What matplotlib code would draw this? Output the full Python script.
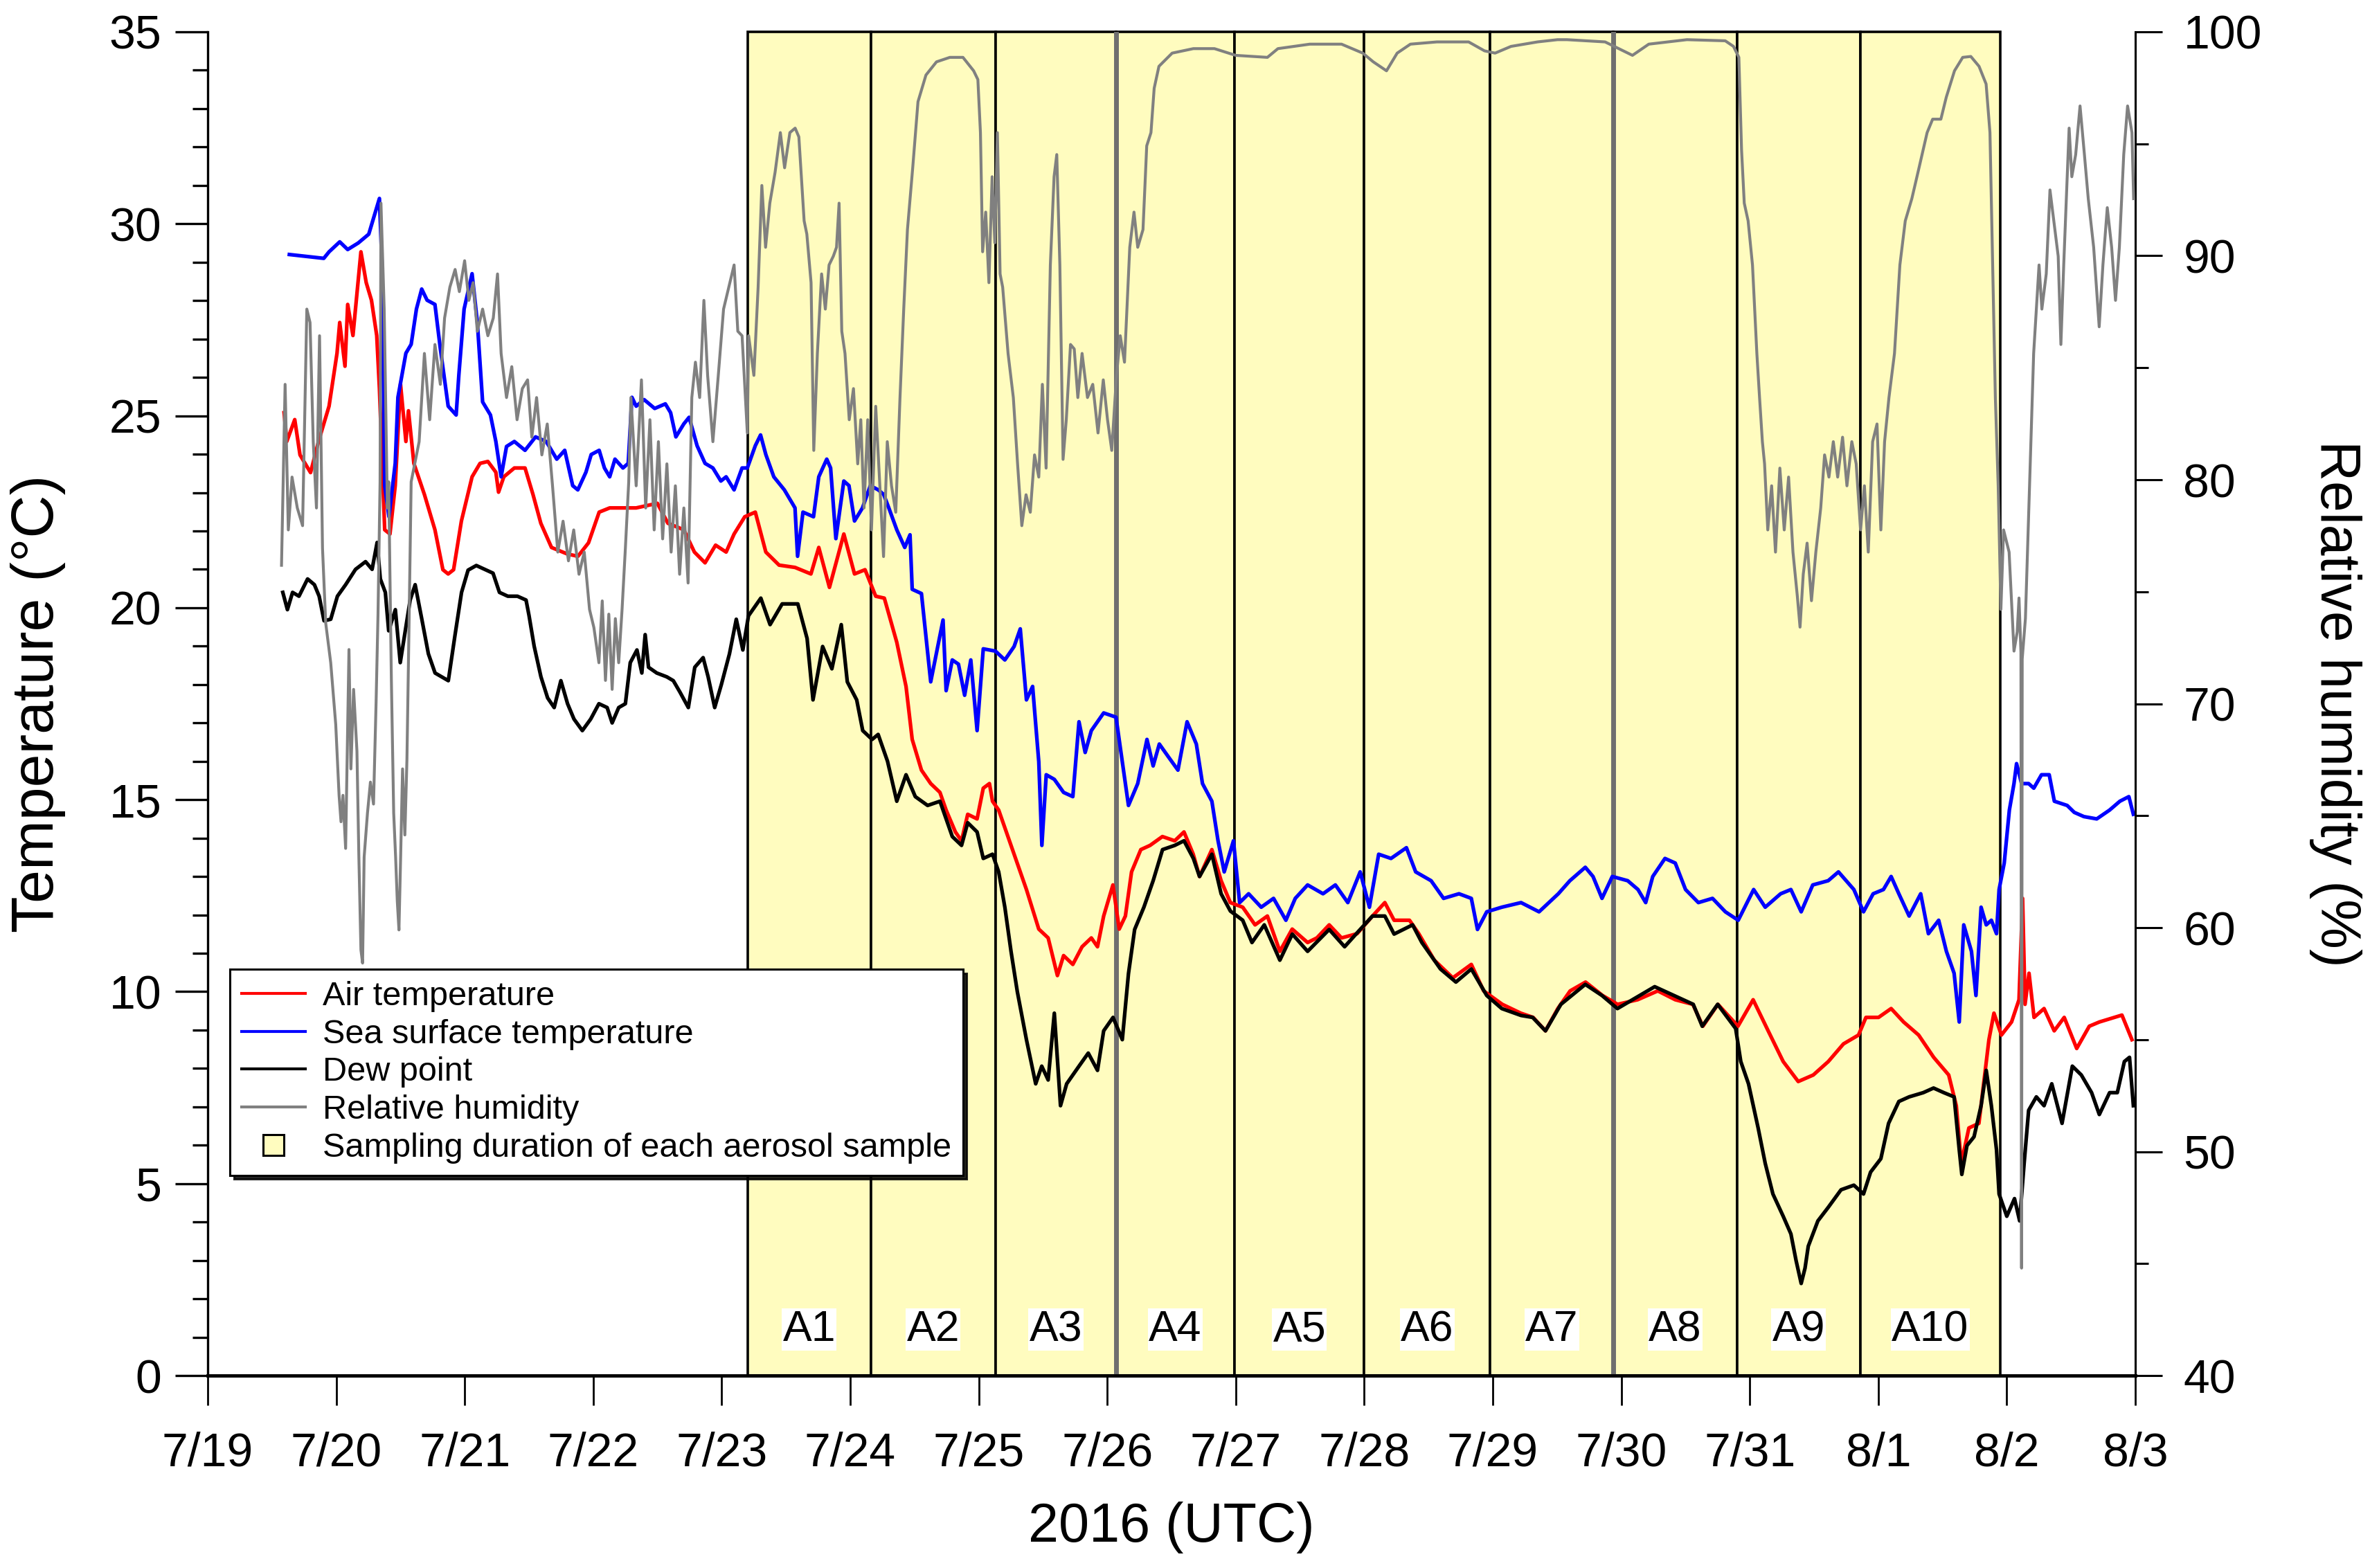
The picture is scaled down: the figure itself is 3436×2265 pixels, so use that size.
import matplotlib
matplotlib.use("Agg")
import matplotlib.pyplot as plt
from matplotlib.lines import Line2D
from matplotlib.ticker import MultipleLocator

plt.rcParams["font.family"] = ["Liberation Sans", "DejaVu Sans"]

# days since 2016-07-19 00:00 UTC
day_labels = ["7/19", "7/20", "7/21", "7/22", "7/23", "7/24", "7/25", "7/26",
              "7/27", "7/28", "7/29", "7/30", "7/31", "8/1", "8/2", "8/3"]

sample_edges = [4.20, 5.16, 6.13, 7.07, 7.99, 9.00, 9.98, 10.94, 11.90, 12.86, 13.95]
sample_labels = ["A1", "A2", "A3", "A4", "A5", "A6", "A7", "A8", "A9", "A10"]
gray_edges = [7.07, 10.94]

air_day = [0.594, 0.615, 0.677, 0.718, 0.8, 0.862, 0.944, 1.006, 1.027, 1.068, 1.089, 1.13,
           1.192, 1.233, 1.274, 1.315, 1.336, 1.377, 1.418, 1.459, 1.5, 1.542, 1.562, 1.604,
           1.686, 1.768, 1.83, 1.871, 1.913, 1.974, 2.057, 2.119, 2.18, 2.242, 2.263, 2.304,
           2.386, 2.469, 2.531, 2.592, 2.675, 2.798, 2.881, 2.963, 3.046, 3.128, 3.334, 3.499,
           3.581, 3.705, 3.787, 3.87, 3.952, 4.034, 4.096, 4.179, 4.261, 4.343, 4.446, 4.57,
           4.694, 4.755, 4.838, 4.95, 5.033, 5.115, 5.198,
           5.265, 5.362, 5.434, 5.482, 5.554, 5.626, 5.698, 5.746, 5.818, 5.866, 5.914, 5.987,
           6.035, 6.083, 6.107, 6.155, 6.227, 6.299, 6.371, 6.467, 6.54, 6.612, 6.66, 6.732,
           6.804, 6.876, 6.924, 6.972, 7.044, 7.093, 7.141, 7.189, 7.261, 7.333, 7.429, 7.525,
           7.597, 7.669, 7.718, 7.814, 7.886, 7.958, 8.054, 8.15, 8.246, 8.343, 8.439, 8.559,
           8.631, 8.727, 8.823, 8.944, 9.064, 9.16, 9.232, 9.352, 9.424, 9.545, 9.689, 9.833,
           9.929, 10.074, 10.218, 10.314, 10.41, 10.506, 10.602, 10.722,
           10.854, 10.971, 11.127, 11.284, 11.42, 11.557, 11.635, 11.752, 11.908, 12.026,
           12.143, 12.26, 12.377, 12.494, 12.611, 12.729, 12.846, 12.904, 13.002, 13.1, 13.197,
           13.314, 13.431, 13.548, 13.607, 13.646, 13.705, 13.783, 13.861, 13.9, 13.958,
           14.037, 14.095, 14.123, 14.142, 14.173, 14.212, 14.29, 14.369, 14.447, 14.544,
           14.642, 14.72, 14.837, 14.896, 14.974]
air_temp = [25.08, 24.33, 24.9, 23.98, 23.52, 24.33, 25.25, 26.63, 27.43, 26.29, 27.9, 27.09,
            29.27, 28.47, 28.01, 27.09, 25.71, 22.03, 21.92, 23.18, 25.83, 24.33, 25.13, 23.76,
            22.95, 22.03, 20.99, 20.88, 20.99, 22.26, 23.41, 23.76, 23.81, 23.53, 23.01, 23.41,
            23.64, 23.64, 22.95, 22.2, 21.57, 21.4, 21.34, 21.69, 22.49, 22.6, 22.6, 22.72,
            22.2, 22.03, 21.45, 21.17, 21.63, 21.45, 21.92, 22.37, 22.49, 21.45, 21.11, 21.05,
            20.88, 21.57, 20.53, 21.92, 20.88, 20.99, 20.3,
            20.25, 19.1, 17.95, 16.57, 15.77, 15.42, 15.19, 14.73, 14.16, 13.93, 14.62, 14.5,
            15.3, 15.42, 14.96, 14.73, 14.04, 13.35, 12.66, 11.63, 11.4, 10.42, 10.94, 10.71,
            11.17, 11.4, 11.17, 11.97, 12.78, 11.63, 11.97, 13.12, 13.7, 13.81, 14.04, 13.93,
            14.16, 13.58, 13.0, 13.7, 12.89, 12.32, 12.2, 11.74, 11.97, 11.05, 11.63, 11.28,
            11.4, 11.74, 11.4, 11.51, 11.97, 12.32, 11.86, 11.86, 11.51, 10.82, 10.36, 10.71,
            10.02, 9.67, 9.44, 9.33, 8.98, 9.56, 10.02, 10.25,
            9.9, 9.67, 9.79, 10.02, 9.79, 9.67, 9.1, 9.67, 9.1, 9.79,
            8.98, 8.18, 7.66, 7.83, 8.18, 8.64, 8.87, 9.33, 9.33, 9.56, 9.21,
            8.87, 8.29, 7.83, 7.03, 5.53, 6.45, 6.57, 8.75, 9.44, 8.87,
            9.21, 9.79, 12.43, 9.67, 10.48, 9.33, 9.56, 8.98, 9.33, 8.52,
            9.1, 9.21, 9.33, 9.39, 8.75]

sst_day = [0.635, 0.903, 0.944, 1.027, 1.089, 1.171, 1.253, 1.295, 1.336, 1.356, 1.377, 1.41,
           1.459, 1.48, 1.542, 1.583, 1.624, 1.665, 1.707, 1.768, 1.81, 1.871, 1.933, 1.954,
           1.995, 2.057, 2.098, 2.139, 2.2, 2.242, 2.283, 2.325, 2.386, 2.469, 2.551, 2.634,
           2.716, 2.778, 2.84, 2.88, 2.943, 2.984, 3.046, 3.087, 3.128, 3.169, 3.231, 3.272,
           3.301, 3.334, 3.396, 3.478, 3.561, 3.602, 3.643, 3.705, 3.746, 3.808, 3.87, 3.931,
           3.993, 4.034, 4.096, 4.158, 4.199, 4.261, 4.302, 4.343, 4.405, 4.487, 4.57, 4.59,
           4.632, 4.714, 4.755, 4.817,
           4.847, 4.888, 4.95, 4.99, 5.033, 5.095, 5.156, 5.218, 5.26, 5.3, 5.362, 5.424, 5.465,
           5.482, 5.554, 5.626, 5.674, 5.722, 5.746, 5.794, 5.842, 5.89, 5.938, 5.987, 6.035,
           6.13, 6.203, 6.275, 6.323, 6.371, 6.419, 6.467, 6.491, 6.525, 6.588, 6.66, 6.732,
           6.78, 6.828, 6.876, 6.972, 7.068, 7.117, 7.165, 7.237, 7.309, 7.357, 7.405, 7.477,
           7.55, 7.621, 7.693, 7.741, 7.814, 7.862, 7.91, 7.982, 8.03, 8.1, 8.198, 8.294, 8.39,
           8.463, 8.559, 8.679, 8.775, 8.872, 8.968, 9.04, 9.112, 9.208, 9.328, 9.4, 9.52,
           9.617, 9.737, 9.833, 9.881, 9.953, 10.07, 10.22, 10.36, 10.51, 10.6, 10.72,
           10.78, 10.85, 10.93, 11.05, 11.13, 11.19, 11.245, 11.34, 11.42, 11.5, 11.6, 11.71,
           11.81, 11.91, 12.03, 12.12, 12.24, 12.32, 12.4, 12.49, 12.61, 12.69, 12.81, 12.885,
           12.96, 13.04, 13.1, 13.16, 13.24, 13.33, 13.39, 13.47, 13.53, 13.59, 13.63, 13.665,
           13.725, 13.76, 13.8, 13.84, 13.88, 13.92, 13.94, 13.98, 14.02, 14.056, 14.076,
           14.115, 14.17, 14.21, 14.27, 14.33, 14.37, 14.47, 14.525, 14.6, 14.7, 14.8, 14.88,
           14.95, 14.985]
sst_temp = [29.2, 29.1, 29.27, 29.53, 29.33, 29.5, 29.73, 30.2, 30.66, 28.93, 23.18, 22.37,
            23.76, 25.48, 26.63, 26.86, 27.78, 28.3, 28.01, 27.9, 26.75, 25.25, 25.02, 26.06,
            27.78, 28.7, 27.43, 25.36, 25.02, 24.33, 23.41, 24.2, 24.33, 24.1, 24.45, 24.33,
            23.87, 24.1, 23.18, 23.07, 23.53, 23.99, 24.1, 23.64, 23.41, 23.87, 23.64, 23.76,
            25.48, 25.25, 25.42, 25.19, 25.31, 25.08, 24.45, 24.79, 24.96, 24.22, 23.76, 23.64,
            23.3, 23.41, 23.07, 23.64, 23.64, 24.22, 24.5, 23.99, 23.41, 23.07, 22.6, 21.34,
            22.49, 22.37, 23.41, 23.87,
            23.64, 21.8, 23.3, 23.18, 22.26, 22.6, 23.18, 23.07, 22.95, 22.6, 22.03, 21.57, 21.9,
            20.48, 20.37, 18.07, 18.87, 19.68, 17.84, 18.64, 18.53, 17.72, 18.64, 16.8, 18.93,
            18.87, 18.64, 18.99, 19.45, 17.6, 17.95, 15.99, 13.81, 15.65, 15.53, 15.19, 15.08,
            17.03, 16.23, 16.8, 17.26, 17.15, 15.99, 14.85, 15.42, 16.57, 15.88, 16.45, 16.11,
            15.77, 17.03, 16.45, 15.42, 14.96, 13.93, 13.12, 13.93, 12.32, 12.55, 12.2, 12.43, 11.86,
            12.43, 12.78, 12.55, 12.78, 12.32, 13.12, 12.2, 13.58, 13.47, 13.75, 13.12, 12.89,
            12.43, 12.55, 12.43, 11.62, 12.08, 12.2, 12.32, 12.08, 12.55, 12.89, 13.24,
            13.0, 12.43, 13.0, 12.89, 12.66, 12.32, 13.0, 13.47, 13.35, 12.66, 12.32, 12.43,
            12.08, 11.86, 12.66, 12.2, 12.55, 12.66, 12.08, 12.78, 12.89, 13.12, 12.66, 12.08,
            12.55, 12.66, 13.0, 12.55, 11.97, 12.55, 11.51, 11.86, 11.05, 10.48, 9.21, 11.74,
            11.05, 9.9, 12.2, 11.74, 11.86, 11.51, 12.66, 13.35, 14.73, 15.42, 15.94,
            15.42, 15.42, 15.3, 15.65, 15.65, 14.96, 14.85, 14.67, 14.56, 14.5, 14.73, 14.96,
            15.08, 14.62]

dew_day = [0.584, 0.62, 0.66, 0.71, 0.777, 0.83, 0.867, 0.905, 0.957, 1.009, 1.073, 1.15,
           1.228, 1.279, 1.318, 1.343, 1.382, 1.408, 1.46, 1.498, 1.537, 1.575, 1.614, 1.666,
           1.717, 1.769, 1.82, 1.872, 1.923, 1.975, 2.026, 2.09, 2.155, 2.22, 2.27, 2.335,
           2.41, 2.477, 2.5, 2.54, 2.593, 2.645, 2.696, 2.748, 2.8, 2.85, 2.915, 2.98, 3.044,
           3.108, 3.147, 3.198, 3.25, 3.288, 3.34, 3.378, 3.404, 3.43, 3.494, 3.572, 3.623,
           3.675, 3.74, 3.79, 3.855, 3.894, 3.945, 3.997, 4.06, 4.113, 4.164,
           4.208, 4.304, 4.376, 4.47, 4.592, 4.664, 4.71, 4.785, 4.857, 4.93, 4.977, 5.05,
           5.097, 5.17, 5.217, 5.29, 5.362, 5.434, 5.506, 5.602, 5.698, 5.794, 5.866, 5.914,
           5.987, 6.035, 6.107, 6.155, 6.203, 6.251, 6.3, 6.371, 6.443, 6.49, 6.54, 6.588,
           6.636, 6.684, 6.78, 6.852, 6.924, 6.972, 7.045, 7.117, 7.165, 7.213, 7.285, 7.357,
           7.43, 7.525, 7.597, 7.67, 7.718, 7.814, 7.886, 7.958, 8.054, 8.126, 8.222, 8.343,
           8.44, 8.559, 8.727, 8.847, 8.968, 9.064, 9.16, 9.232, 9.376, 9.448, 9.593, 9.713,
           9.833, 9.953, 10.07, 10.22, 10.31, 10.41, 10.53, 10.72,
           10.85, 10.97, 11.26, 11.56, 11.63, 11.75, 11.89, 11.93, 11.99, 12.065, 12.12, 12.18,
           12.26, 12.32, 12.36, 12.4, 12.43, 12.455, 12.53, 12.61, 12.71, 12.81, 12.885, 12.94,
           13.02, 13.08, 13.16, 13.24, 13.35, 13.43, 13.51, 13.59, 13.63, 13.65, 13.69, 13.745,
           13.8, 13.84, 13.88, 13.92, 13.94, 14.0, 14.06, 14.1, 14.135, 14.17, 14.23, 14.29,
           14.35, 14.43, 14.51, 14.58, 14.66, 14.72, 14.8, 14.86, 14.915, 14.955, 14.985]
dew_temp = [20.4, 19.95, 20.4, 20.3, 20.75, 20.6, 20.3, 19.66, 19.7, 20.3, 20.6, 21.0,
            21.2, 21.0, 21.7, 20.75, 20.4, 19.4, 19.95, 18.57, 19.4, 20.2, 20.6, 19.7,
            18.8, 18.3, 18.2, 18.1, 19.26, 20.4, 20.98, 21.1, 21.0, 20.9, 20.4, 20.3,
            20.3, 20.2, 19.8, 19.0, 18.2, 17.65, 17.4, 18.1, 17.5, 17.1, 16.8, 17.1, 17.5,
            17.4, 17.0, 17.4, 17.5, 18.57, 18.9, 18.3, 19.3, 18.45, 18.3, 18.2, 18.1,
            17.8, 17.4, 18.45, 18.7, 18.2, 17.4, 18.0, 18.8, 19.7, 18.9,
            19.79, 20.25, 19.56, 20.1, 20.1, 19.2, 17.6, 18.99, 18.41, 19.56, 18.07, 17.6,
            16.8, 16.57, 16.7, 16.0, 14.96, 15.65, 15.08, 14.85, 14.96, 14.04, 13.81, 14.4,
            14.16, 13.47, 13.58, 13.12, 12.2, 11.05, 10.0, 8.75, 7.6, 8.06, 7.7, 9.44,
            7.03, 7.6, 8.06, 8.4, 7.95, 8.98, 9.33, 8.75, 10.47, 11.62, 12.2, 12.89,
            13.7, 13.81, 13.93, 13.47, 13.0, 13.58, 12.55, 12.1, 11.86, 11.28, 11.74, 10.82,
            11.5, 11.05, 11.62, 11.17, 11.62, 11.97, 11.97, 11.5, 11.74, 11.28, 10.59, 10.25,
            10.59, 9.9, 9.56, 9.38, 9.33, 8.98, 9.67, 10.19,
            9.9, 9.56, 10.13, 9.67, 9.1, 9.67, 9.04, 8.18, 7.6, 6.45, 5.53, 4.73,
            4.15, 3.69, 3.0, 2.4, 2.8, 3.37, 4.03, 4.38, 4.84, 4.96, 4.73, 5.3,
            5.65, 6.57, 7.14, 7.26, 7.37, 7.49, 7.37, 7.26, 5.88, 5.24, 5.99, 6.22,
            7.03, 7.95, 7.03, 5.88, 4.73, 4.15, 4.61, 4.03, 5.53, 6.91, 7.26, 7.03,
            7.6, 6.57, 8.06, 7.83, 7.37, 6.8, 7.37, 7.37, 8.18, 8.29, 7.03]

rh_day = [0.574, 0.602, 0.627, 0.656, 0.697, 0.738, 0.771, 0.796, 0.821, 0.846, 0.87, 0.893,
          0.918, 0.957, 0.996, 1.022, 1.037, 1.052, 1.073, 1.099, 1.114, 1.135, 1.161, 1.176,
          1.192, 1.205, 1.217, 1.243, 1.266, 1.29, 1.31, 1.325, 1.341, 1.348, 1.373, 1.398,
          1.408, 1.429, 1.447, 1.462, 1.475, 1.488, 1.501, 1.516, 1.534, 1.55, 1.565, 1.583,
          1.645, 1.686, 1.727, 1.768, 1.81, 1.843, 1.884, 1.925, 1.958, 1.999, 2.032, 2.065,
          2.098, 2.139, 2.18, 2.222, 2.255, 2.283, 2.325, 2.366, 2.407, 2.448, 2.489, 2.522,
          2.559, 2.6, 2.642, 2.683, 2.724, 2.765, 2.807, 2.848, 2.889, 2.93, 2.971, 3.005,
          3.044, 3.07, 3.095, 3.121, 3.147, 3.172, 3.198, 3.224, 3.25, 3.276, 3.293, 3.334,
          3.375, 3.408, 3.441, 3.474, 3.507, 3.54, 3.573, 3.606, 3.639, 3.672, 3.705, 3.738,
          3.767, 3.795, 3.828, 3.861, 3.89, 3.931, 3.973, 4.014, 4.055, 4.096, 4.125, 4.158,
          4.199, 4.209, 4.25, 4.283, 4.312, 4.341, 4.374, 4.415, 4.456, 4.489, 4.53, 4.571,
          4.6, 4.641, 4.662, 4.695, 4.716, 4.744, 4.777, 4.806, 4.835, 4.868, 4.893, 4.913,
          4.934, 4.959, 4.992, 5.025, 5.058, 5.082, 5.107, 5.136, 5.165, 5.198, 5.23, 5.259,
          5.288, 5.321, 5.354, 5.387, 5.416, 5.445, 5.486, 5.527, 5.589, 5.671, 5.775, 5.877,
          5.96, 5.993, 6.013, 6.03, 6.054, 6.079, 6.104, 6.125, 6.145, 6.166, 6.186, 6.228,
          6.269, 6.302, 6.335, 6.368, 6.401, 6.434, 6.467, 6.495, 6.524, 6.557, 6.586, 6.607,
          6.631, 6.656, 6.681, 6.714, 6.743, 6.771, 6.804, 6.846, 6.887, 6.928, 6.969, 7.002,
          7.035, 7.072, 7.101, 7.134, 7.175, 7.208, 7.237, 7.278, 7.307, 7.34, 7.365, 7.402,
          7.505, 7.67, 7.834, 7.999, 8.246, 8.328, 8.576, 8.823, 8.988, 9.07, 9.173, 9.256,
          9.359, 9.565, 9.812, 9.936, 10.018, 10.142, 10.348, 10.504,
          10.577, 10.874, 10.98, 11.087, 11.214, 11.511, 11.809, 11.873, 11.915, 11.936,
          11.957, 11.987, 12.021, 12.055, 12.076, 12.098, 12.115, 12.14, 12.17, 12.2, 12.234,
          12.268, 12.302, 12.336, 12.37, 12.391, 12.416, 12.446, 12.48, 12.514, 12.552,
          12.582, 12.616, 12.65, 12.684, 12.722, 12.756, 12.794, 12.828, 12.862, 12.892,
          12.922, 12.956, 12.99, 13.02, 13.049, 13.083, 13.126, 13.168, 13.21, 13.261,
          13.317, 13.38, 13.423, 13.487, 13.529, 13.593, 13.657, 13.72, 13.784, 13.839,
          13.869, 13.89, 13.911, 13.933, 13.954, 13.975, 14.018, 14.056, 14.081, 14.095,
          14.11, 14.115, 14.12, 14.145, 14.188, 14.209, 14.23, 14.251, 14.273, 14.307,
          14.336, 14.366, 14.4, 14.421, 14.443, 14.485, 14.506, 14.536, 14.57, 14.604,
          14.634, 14.676, 14.719, 14.748, 14.782, 14.816, 14.846, 14.876, 14.91, 14.94,
          14.974, 14.987]
rh_val = [76.18, 84.26, 77.76, 80.12, 78.74, 77.95, 87.62, 87.02, 81.7, 78.74, 86.43, 76.95,
          73.6, 71.83, 69.07, 65.91, 64.73, 65.91, 63.54, 72.42, 67.09, 70.64, 67.88, 63.15,
          59.01, 58.42, 63.15, 65.12, 66.5, 65.52, 70.05, 74.0, 79.91, 92.35, 87.62, 78.74,
          79.91, 71.04, 65.12, 63.15, 61.18, 59.9, 63.15, 67.09, 64.14, 67.49, 73.01, 79.91,
          81.7, 85.64, 82.68, 86.04, 84.26, 87.22, 88.6, 89.39, 88.4, 89.78, 88.01, 88.8,
          86.63, 87.62, 86.43, 87.22, 89.19, 85.64, 83.67, 85.05, 82.68, 84.07, 84.46, 81.9,
          83.67, 81.11, 82.49, 79.73, 76.77, 78.15, 76.38, 77.76, 75.78, 76.77, 74.21, 73.4,
          71.83, 74.59, 71.04, 74.0, 70.64, 73.8, 71.83, 74.19, 76.95, 79.91, 83.67, 79.73,
          84.46, 78.74, 82.68, 77.76, 81.7, 77.36, 80.71, 76.77, 79.73, 75.78, 78.74, 75.39,
          83.67, 85.25, 83.67, 88.01, 84.66, 81.7, 84.66, 87.62, 88.6, 89.59, 86.63, 86.43,
          82.09, 86.43, 84.66, 88.6, 93.14, 90.38, 92.35, 93.73, 95.5, 93.93, 95.5, 95.7,
          95.31, 91.56, 90.97, 88.8, 81.31, 85.64, 89.19, 87.62, 89.59, 89.98, 90.38, 92.35,
          86.63, 85.64, 82.68, 84.07, 80.71, 82.68, 78.74, 82.68, 77.76, 83.28, 79.73, 76.57,
          81.7, 79.73, 78.55, 83.67, 87.62, 91.17, 93.93, 96.88, 98.07, 98.66, 98.86, 98.86,
          98.26, 97.87, 95.5, 90.18, 91.95, 88.8, 93.53, 90.58, 95.5, 89.19, 88.6, 85.64,
          83.67, 80.71, 77.95, 79.33, 78.55, 81.11, 80.12, 84.26, 80.52, 89.59, 93.53, 94.52,
          89.59, 80.91, 82.68, 86.04, 85.84, 83.67, 85.64, 83.67, 84.26, 82.09, 84.46, 82.68,
          81.31, 84.66, 86.43, 85.25, 90.38, 91.95, 90.38, 91.17, 94.91, 95.5, 97.48, 98.46,
          99.05, 99.25, 99.25, 98.95, 98.86, 99.25, 99.45, 99.45, 99.05, 98.66, 98.26, 99.05,
          99.45, 99.55, 99.55, 99.15, 99.05, 99.35, 99.55, 99.65,
          99.65, 99.55, 99.25, 98.95, 99.45, 99.65, 99.6, 99.35, 98.86, 94.72,
          92.35, 91.56, 89.59, 85.64, 83.67, 81.7, 80.71, 77.76, 79.73, 76.77, 80.52,
          77.76, 80.12, 76.77, 74.8, 73.42, 75.78, 77.17, 74.6, 76.77, 78.74,
          81.11, 80.12, 81.7, 80.12, 81.9, 79.73, 81.7, 80.71, 77.76, 79.73,
          76.77, 81.7, 82.49, 77.76, 81.7, 83.67, 85.64, 89.59, 91.56, 92.55,
          93.93, 95.5, 96.1, 96.1, 97.08, 98.26, 98.86, 98.9, 98.46, 97.67,
          95.5, 89.59, 83.67, 79.73, 74.21, 77.76, 76.77, 72.35, 73.2, 74.72,
          72.3, 44.8, 72.0, 73.81, 81.7, 85.64, 87.62, 89.59, 87.62, 89.19,
          92.94, 91.56, 89.98, 86.04, 89.59, 95.7, 93.53, 94.52, 96.69, 94.52,
          92.55, 90.38, 86.83, 89.59, 92.15, 90.38, 88.01, 90.38, 94.52, 96.69,
          95.5, 92.55]

box_color = "#fffcbf"

fig = plt.figure(figsize=(34.37, 22.65), dpi=100)
ax = fig.add_axes([0.0873, 0.1227, 0.81, 0.857])
ax2 = ax.twinx()

for i, lab in enumerate(sample_labels):
    x0, x1 = sample_edges[i], sample_edges[i + 1]
    ax.axvspan(x0, x1, ymin=0, ymax=1, facecolor=box_color, edgecolor="black",
               linewidth=2.6, zorder=0, clip_on=False)
    ax.text((x0 + x1) / 2, 1.2, lab, ha="center", va="center", fontsize=45, zorder=5,
            bbox=dict(facecolor="white", edgecolor="none", pad=1))
for xe in gray_edges:
    ax.axvline(xe, color="#6f6f6f", linewidth=5, zorder=1)

ax.plot(air_day, air_temp, color="#ff0000", linewidth=3.8, zorder=3)
ax.plot(sst_day, sst_temp, color="#0000ff", linewidth=3.8, zorder=3)
ax.plot(dew_day, dew_temp, color="black", linewidth=3.8, zorder=3)
ax2.plot(rh_day, rh_val, color="#808080", linewidth=3.0, zorder=3)

ax.set_xlim(0, 15)
ax.set_ylim(0, 35)
ax2.set_ylim(40, 100)

ax.set_xticks(range(16))
ax.set_xticklabels(day_labels)
ax.yaxis.set_major_locator(MultipleLocator(5))
ax.yaxis.set_minor_locator(MultipleLocator(1))
ax2.yaxis.set_major_locator(MultipleLocator(10))
ax2.yaxis.set_minor_locator(MultipleLocator(5))

ax.tick_params(axis="x", direction="out", length=31, width=2, pad=27, labelsize=49)
ax.tick_params(axis="y", which="major", direction="out", length=34, width=2.4, pad=14,
               labelsize=49)
ax.tick_params(axis="y", which="minor", direction="out", length=16, width=2.4)
ax2.tick_params(axis="y", which="major", direction="out", length=28, width=2.2, pad=22,
                labelsize=49)
ax2.tick_params(axis="y", which="minor", direction="out", length=14, width=2.2)

for a in (ax, ax2):
    a.spines["top"].set_visible(False)
ax.spines["right"].set_visible(False)
ax2.spines["left"].set_visible(False)
ax2.spines["bottom"].set_visible(False)
ax.spines["left"].set_linewidth(2.4)
ax2.spines["right"].set_linewidth(2.2)
ax.spines["bottom"].set_linewidth(3.5)

fig.text(0.016, 0.5514, "Temperature (°C)", rotation=90, ha="center", va="center",
         fontsize=62)
fig.text(0.9814, 0.5514, "Relative humidity (%)", rotation=270, ha="center", va="center",
         fontsize=58)
fig.text(0.4923, 0.026, "2016 (UTC)", ha="center", va="center", fontsize=57)

handles = [
    Line2D([], [], color="#ff0000", linewidth=3),
    Line2D([], [], color="#0000ff", linewidth=3),
    Line2D([], [], color="black", linewidth=3),
    Line2D([], [], color="#808080", linewidth=3),
    Line2D([], [], linestyle="none", marker="s", markersize=22, markerfacecolor=box_color,
           markeredgecolor="black", markeredgewidth=2.2),
]
names = ["Air temperature", "Sea surface temperature", "Dew point", "Relative humidity",
         "Sampling duration of each aerosol sample"]
leg = ax2.legend(handles, names, loc="upper left", bbox_to_anchor=(0.0966, 0.3819),
                 bbox_transform=fig.transFigure, fontsize=35, frameon=True, fancybox=False,
                 edgecolor="black", framealpha=1, borderpad=0.35, labelspacing=0.2,
                 handlelength=1.9, handletextpad=0.5, borderaxespad=0,
                 shadow={"ox": 4, "oy": -4, "color": "black", "alpha": 0.85})
leg.get_frame().set_linewidth(2.2)
leg.set_zorder(10)

fig.savefig("out.png", dpi=100)
